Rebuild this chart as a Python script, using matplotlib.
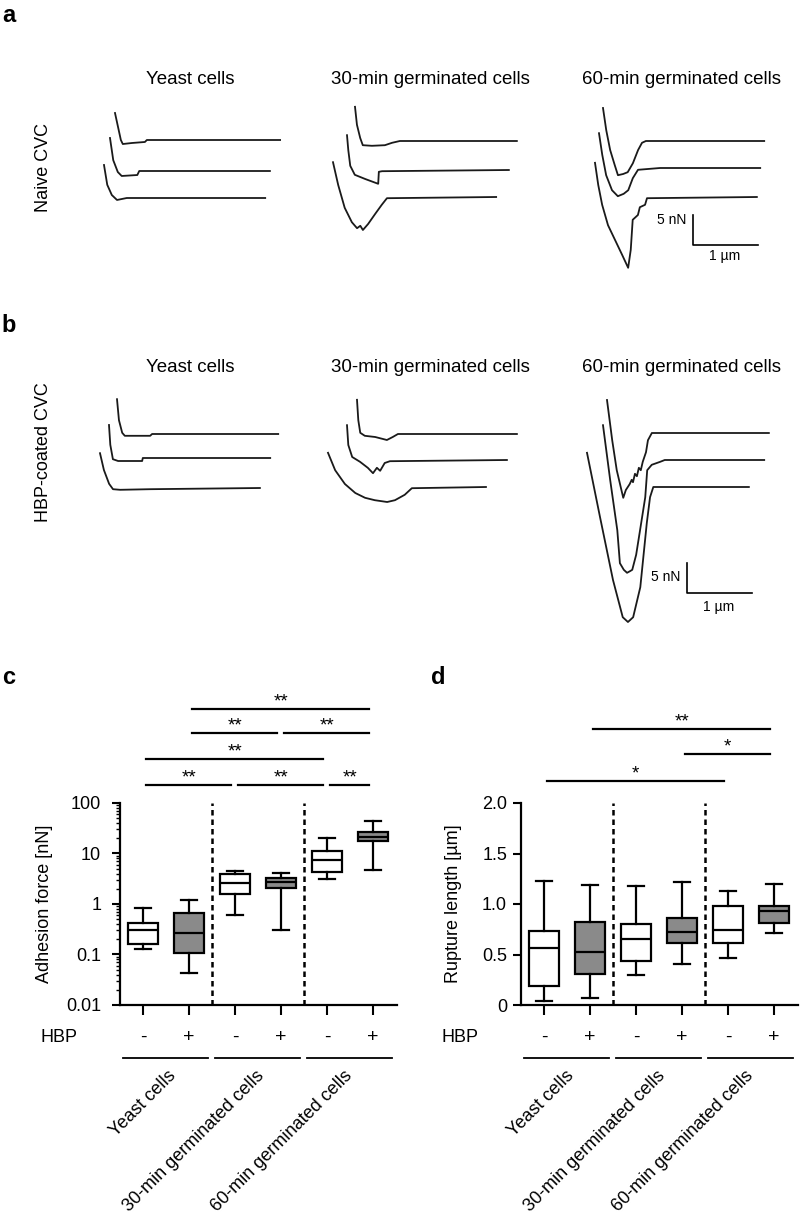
import matplotlib
matplotlib.use("Agg")
import matplotlib.pyplot as plt
from matplotlib.transforms import blended_transform_factory

plt.rcParams["font.family"] = ["Liberation Sans", "DejaVu Sans"]

W, H = 800, 1219
PX_UM = 65.0   # px per 1 µm in the force curves
PX_NN = 6.0    # px per 1 nN

conditions = ["Yeast cells", "30-min germinated cells", "60-min germinated cells"]

# retraction curves, distance [µm] and force [nN] relative to baseline
naive_yeast_dist = [[0, .05, .09, .12, .26, .46, .49, 2.54],
                    [0, .05, .12, .18, .42, .45, 2.46],
                    [0, .05, .12, .20, .35, 2.48]]
naive_yeast_force = [[4.5, 2.0, 0, -.67, -.5, -.33, 0, 0],
                     [5.5, 1.8, -.17, -.83, -.67, 0, 0],
                     [5.5, 2.2, .5, -.33, 0, 0]]
naive_30_dist = [[0, .03, .08, .12, .26, .46, .57, .69, 2.49],
                 [0, .02, .05, .12, .28, .48, .49, .54, 2.49],
                 [0, .08, .18, .29, .37, .42, .46, .54, .65, .75, .83, 2.51]]
naive_30_force = [[5.7, 2.7, .5, -.7, -.8, -.7, -.3, 0, 0],
                  [5.8, 3.3, .7, -.8, -1.5, -2.3, -.3, -.2, 0],
                  [5.8, 2.0, -1.8, -4.2, -5.2, -4.8, -5.5, -4.5, -2.8, -1.3, -.2, 0]]
naive_60_dist = [[0, .05, .11, .18, .23, .31, .38, .46, .54, .60, .66, 2.48],
                 [0, .05, .11, .20, .29, .38, .45, .52, .60, .94, 2.48],
                 [0, .05, .11, .20, .31, .42, .51, .55, .58, .66, .69, .77, .80, 2.49]]
naive_60_force = [[5.5, 1.8, -1.5, -4, -5.7, -5.5, -5.2, -3.7, -1.5, -.3, 0, 0],
                  [5.8, 2.2, -1.2, -3.7, -4.7, -4.3, -3.7, -1.7, -.3, 0, 0],
                  [5.7, 2, -1.3, -4.7, -7.2, -9.7, -11.8, -8.8, -3.8, -3, -1.7, -1.3, -.2, 0]]

hbp_yeast_dist = [[0, .03, .08, .12, .51, .54, 2.48],
                  [0, .02, .06, .14, .51, .52, 2.48],
                  [0, .06, .14, .20, .31, .77, 2.46]]
hbp_yeast_force = [[5.8, 2.3, .2, -.3, -.3, 0, 0],
                   [5.5, 2.2, -.2, -.5, -.5, 0, 0],
                   [5.8, 3, .7, -.2, -.3, -.2, 0]]
hbp_30_dist = [[0, .02, .05, .12, .28, .46, .55, .63, 2.46],
               [0, .02, .08, .20, .32, .40, .46, .51, .58, .66, 2.46],
               [0, .11, .26, .42, .57, .72, .91, 1.03, 1.18, 1.29, 2.43]]
hbp_30_force = [[5.7, 2.3, .2, -.3, -.5, -1, -.5, 0, 0],
                [5.8, 2.5, .5, -.3, -1.3, -2.2, -1.3, -1.8, -.5, -.2, 0],
                [5.7, 2.8, .5, -1, -1.8, -2.2, -2.5, -2.2, -1.3, -.2, 0]]
hbp_60_dist = [[0, .08, .15, .25, .29, .32, .35, .38, .40, .43, .46, .49, .52, .55, .60, .63, .69, 2.49],
               [0, .11, .22, .26, .32, .37, .42, .45, .51, .57, .65, .68, .75, .88, .95, 2.48],
               [0, .20, .40, .55, .63, .71, .82, .92, .97, 1.02, 2.49]]
hbp_60_force = [[5.5, -1.2, -6.2, -10.8, -9.5, -9, -8.5, -7.8, -8.2, -6.8, -7.2, -5.8, -6.2, -4.8, -3.2, -1.2, 0, 0],
                [5.8, -3.3, -11.7, -17.2, -18.3, -18.8, -18.5, -18.3, -15.8, -11.7, -6.2, -1.7, -.8, -.3, 0, 0],
                [5.7, -5, -15.5, -21.7, -22.5, -21.7, -16.7, -6, -1.7, 0, 0]]

scale_force = 5  # nN
scale_dist = 1   # µm

# box plot summaries: 6 groups (yeast -, +, 30 min -, +, 60 min -, +)
hbp_signs = ["-", "+", "-", "+", "-", "+"]
force_q1 = [0.16, 0.107, 1.58, 2.07, 4.3, 17.7]
force_med = [0.31, 0.27, 2.6, 2.7, 7.4, 21.2]
force_q3 = [0.42, 0.66, 3.9, 3.3, 11.2, 26.7]
force_lo = [0.13, 0.043, 0.6, 0.31, 3.1, 4.7]
force_hi = [0.83, 1.2, 4.5, 4.1, 20.3, 44]
length_q1 = [0.19, 0.31, 0.44, 0.61, 0.61, 0.81]
length_med = [0.56, 0.52, 0.65, 0.72, 0.74, 0.93]
length_q3 = [0.73, 0.82, 0.80, 0.86, 0.98, 0.98]
length_lo = [0.04, 0.07, 0.30, 0.41, 0.47, 0.71]
length_hi = [1.23, 1.19, 1.18, 1.22, 1.13, 1.20]

force_pairs = [(1, 3), (3, 5), (5, 6), (1, 5), (2, 4), (4, 6), (2, 6)]
force_stars = ["**"] * 7
force_rows = [0, 0, 0, 1, 2, 2, 3]
length_pairs = [(1, 5), (4, 6), (2, 6)]
length_stars = ["*", "*", "**"]
length_rows = [0, 1, 2]

fig = plt.figure(figsize=(W / 100, H / 100), dpi=100)


def fx(px):
    return px / W


def fy(py):
    return 1 - py / H


# one transparent axes over the whole figure for the force curves
ax_tr = fig.add_axes([0, 0, 1, 1])
ax_tr.set_xlim(0, W / PX_UM)
ax_tr.set_ylim(-H / PX_NN, 0)
ax_tr.axis("off")
ax_tr.patch.set_alpha(0)

# where each curve starts (px) and its baseline (px)
naive_layout = [[(115, 140), (110, 171), (104, 198)],
                [(355, 141), (347, 170), (333, 197)],
                [(603, 141), (599, 168), (595, 197)]]
hbp_layout = [[(117, 434), (109, 458), (100, 488)],
              [(357, 434), (347, 460), (328, 487)],
              [(607, 433), (603, 460), (587, 487)]]

panels = [
    ([naive_yeast_dist, naive_30_dist, naive_60_dist],
     [naive_yeast_force, naive_30_force, naive_60_force], naive_layout),
    ([hbp_yeast_dist, hbp_30_dist, hbp_60_dist],
     [hbp_yeast_force, hbp_30_force, hbp_60_force], hbp_layout),
]
for dists, forces, layout in panels:
    for k in range(3):
        for d, f, (x0, y0) in zip(dists[k], forces[k], layout[k]):
            ax_tr.plot([x0 / PX_UM + v for v in d], [-y0 / PX_NN + v for v in f],
                       color="#1a1a1a", lw=1.3, solid_joinstyle="round")


def scale_bar(cx, cy, nn_dy, um_dy):
    x0, y0 = cx / PX_UM, -cy / PX_NN
    ax_tr.plot([x0, x0, x0 + scale_dist], [y0 + scale_force, y0, y0],
               color="black", lw=1.2)
    fig.text(fx(cx - 7), fy(cy + nn_dy), "5 nN", ha="right", va="center", fontsize=10)
    fig.text(fx(cx + 32), fy(cy + um_dy), "1 µm", ha="center", va="center", fontsize=10)


scale_bar(693, 245, -25, 11)
scale_bar(687, 593, -16, 14)

title_x = [190, 430, 681]
for tx, name in zip(title_x, conditions):
    fig.text(fx(tx), fy(80), name, ha="center", va="center", fontsize=13.5)
    fig.text(fx(tx), fy(367), name, ha="center", va="center", fontsize=13.5)

fig.text(fx(43), fy(167), "Naive CVC", rotation=90, ha="center", va="center", fontsize=13)
fig.text(fx(43), fy(452), "HBP-coated CVC", rotation=90, ha="center", va="center", fontsize=13)

for lab, px, py in [("a", 9, 15), ("b", 9, 325), ("c", 9, 678), ("d", 438, 677)]:
    fig.text(fx(px), fy(py), lab, ha="center", va="center", fontsize=17, fontweight="bold")

# box plot panels
positions = [1, 2, 3, 4, 5, 6]
fills = ["white", "#8a8a8a"] * 3
AX_BOTTOM, AX_H = 1005, 202


def box_panel(left, q1, med, q3, lo, hi, log, ylabel, pairs, stars, rows, row_py,
              label_dx, ylabel_x, ypad):
    ax = fig.add_axes([fx(left), fy(AX_BOTTOM), 277 / W, AX_H / H])
    stats = [dict(q1=a, med=m, q3=b, whislo=l, whishi=h)
             for a, m, b, l, h in zip(q1, med, q3, lo, hi)]
    lw = 1.6
    bp = ax.bxp(stats, positions=positions, widths=0.67, capwidths=0.33,
                patch_artist=True, showfliers=False,
                boxprops=dict(linewidth=lw, edgecolor="black"),
                medianprops=dict(linewidth=lw, color="black"),
                whiskerprops=dict(linewidth=lw, color="black"),
                capprops=dict(linewidth=lw, color="black"))
    for patch, c in zip(bp["boxes"], fills):
        patch.set_facecolor(c)
    ax.set_xlim(0.5, 6.52)
    if log:
        ax.set_yscale("log")
        ax.set_ylim(0.01, 100)
        ax.set_yticks([0.01, 0.1, 1, 10, 100])
        ax.set_yticklabels(["0.01", "0.1", "1", "10", "100"])
        ax.tick_params(axis="y", which="minor", length=3, width=1.0)
    else:
        ax.set_ylim(0, 2.0)
        ax.set_yticks([0, 0.5, 1.0, 1.5, 2.0])
        ax.set_yticklabels(["0", "0.5", "1.0", "1.5", "2.0"])
        ax.minorticks_off()
    ax.set_xticks(positions)
    ax.set_xticklabels([])
    ax.tick_params(axis="y", which="major", length=6, width=1.5, labelsize=13, pad=ypad)
    ax.tick_params(axis="x", which="major", length=7, width=1.5)
    for s in ["top", "right"]:
        ax.spines[s].set_visible(False)
    for s in ["left", "bottom"]:
        ax.spines[s].set_linewidth(1.6)
    ax.patch.set_alpha(0)

    for xv in [2.5, 4.5]:
        ax.axvline(xv, color="black", lw=1.8, ls=(0, (2.2, 1.6)), ymin=0, ymax=1)

    tr = blended_transform_factory(ax.transData, ax.transAxes)

    def fa(py):
        return (AX_BOTTOM - py) / AX_H

    for (i, j), s, r in zip(pairs, stars, rows):
        yb = fa(row_py[r])
        ax.plot([i + 0.06, j - 0.08], [yb, yb], transform=tr, color="black",
                lw=1.6, clip_on=False)
        ax.text((i + j) / 2 - 0.01, yb + 3 / AX_H, s, transform=tr, ha="center",
                va="baseline", fontsize=13.5, clip_on=False)

    for p, sgn in zip(positions, hbp_signs):
        ax.text(p, fa(1037), sgn, transform=tr, ha="center", va="center", fontsize=14)
    for g in range(3):
        a, b = positions[2 * g], positions[2 * g + 1]
        ax.plot([a - 0.43, b + 0.42], [fa(1058)] * 2, transform=tr, color="black",
                lw=1.3, clip_on=False)
        ax.text((a + b) / 2 + label_dx[g], fa(1067), conditions[g], transform=tr,
                rotation=45, rotation_mode="anchor", ha="right", va="top",
                fontsize=13)
    fig.text(fx(left - 61), fy(1037), "HBP", ha="center", va="center", fontsize=13)
    fig.text(fx(ylabel_x), fy(904), ylabel, rotation=90, ha="center", va="center",
             fontsize=13)
    return ax


box_panel(120, force_q1, force_med, force_q3, force_lo, force_hi, True,
          "Adhesion force [nN]", force_pairs, force_stars, force_rows,
          [785, 759, 733, 709], [0.02, -0.06, -0.13], 45, 7.5)
box_panel(521, length_q1, length_med, length_q3, length_lo, length_hi, False,
          "Rupture length [µm]", length_pairs, length_stars, length_rows,
          [781, 754, 729], [-0.04, -0.05, -0.13], 453, 4)

fig.savefig("out.png", dpi=100)
